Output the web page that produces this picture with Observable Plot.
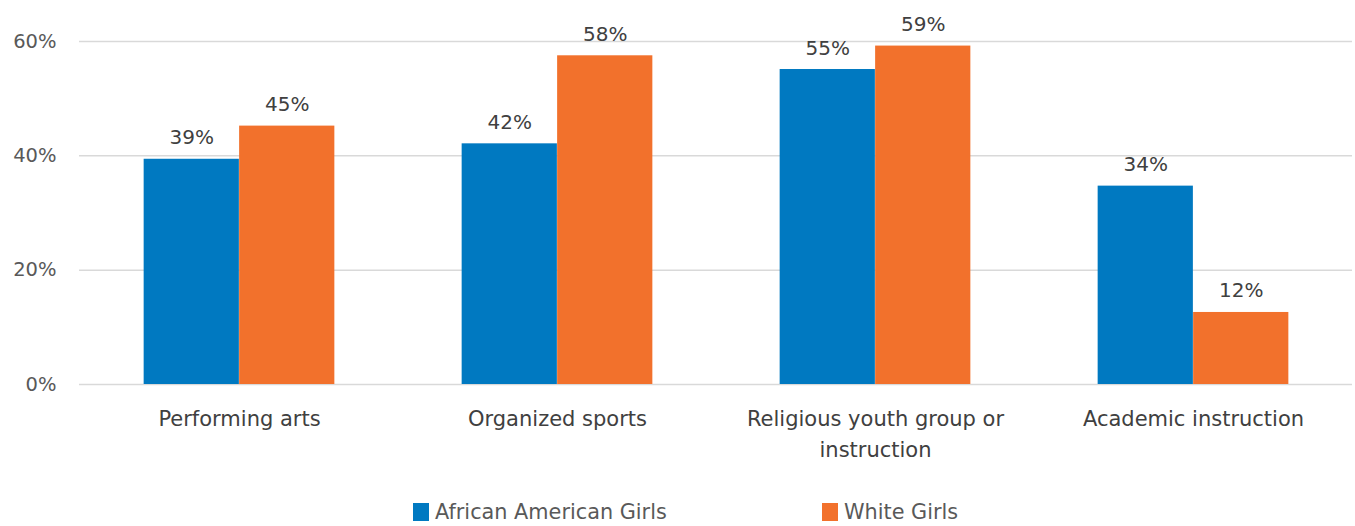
<!DOCTYPE html>
<html>
<head>
<meta charset="utf-8">
<script src="https://cdn.jsdelivr.net/npm/d3@7"></script>
<script src="https://cdn.jsdelivr.net/npm/@observablehq/plot@0.6"></script>
<style>
  html, body { margin: 0; padding: 0; background: #fff; }
  #chart { width: 1355px; }
  .legend { position: relative; height: 46px; font-family: "DejaVu Sans", sans-serif; font-size: 20.8px; color: #595959; }
  .legend .item { position: absolute; top: 20px; display: flex; align-items: center; height: 24px; }
  .legend .sw { width: 16px; height: 18px; margin-right: 6px; }
</style>
</head>
<body>
<div id="chart"></div>
<script>
const categories = ["Performing arts", "Organized sports", "Religious youth group or instruction", "Academic instruction"];
const categoryLabels = ["Performing arts", "Organized sports", "Religious youth group or\ninstruction", "Academic instruction"];
const groups = ["African American Girls", "White Girls"];
const africanAmerican = [39.4, 42.1, 55.1, 34.7];
const white = [45.2, 57.5, 59.2, 12.6];
const africanAmericanLabels = ["39%", "42%", "55%", "34%"];
const whiteLabels = ["45%", "58%", "59%", "12%"];
const yTicks = [0, 20, 40, 60];
const colors = ["#0079C1", "#F2712C"];

const seriesA = categories.map((c, i) => ({category: c, group: groups[0], value: africanAmerican[i], label: africanAmericanLabels[i]}));
const seriesB = categories.map((c, i) => ({category: c, group: groups[1], value: white[i], label: whiteLabels[i]}));
const labelOf = new Map(categories.map((c, i) => [c, categoryLabels[i]]));

const W = 1355, ML = 79, MR = 3;
const step = (W - ML - MR) / categories.length;
const outer = 0.2 * step, bar = 0.3 * step;

const font = '"DejaVu Sans", sans-serif';
const plot = Plot.plot({
  width: W,
  height: 480,
  marginLeft: ML,
  marginRight: MR,
  marginTop: 41,
  marginBottom: 96,
  style: {fontFamily: font, fontSize: "20px", color: "#595959", background: "#fff"},
  x: {domain: categories, padding: 0, axis: null},
  y: {domain: [0, 60], axis: null},
  color: {domain: groups, range: colors},
  marks: [
    Plot.gridY(yTicks, {stroke: "#d9d9d9", strokeWidth: 1.5, strokeOpacity: 1}),
    Plot.axisY(yTicks, {tickSize: 0, tickPadding: 23, tickFormat: d => d + "%", fill: "#595959", fontSize: 19.5, label: null}),
    Plot.barY(seriesA, {x: "category", y: "value", fill: "group", insetLeft: outer, insetRight: step - outer - bar}),
    Plot.barY(seriesB, {x: "category", y: "value", fill: "group", insetLeft: outer + bar, insetRight: outer}),
    Plot.text(seriesA, {x: "category", y: "value", text: "label", dx: -bar / 2, lineAnchor: "bottom", dy: -15, fill: "#404040", fontSize: 20}),
    Plot.text(seriesB, {x: "category", y: "value", text: "label", dx: bar / 2, lineAnchor: "bottom", dy: -15, fill: "#404040", fontSize: 20}),
    Plot.text(categories, {x: d => d, text: d => labelOf.get(d), frameAnchor: "bottom", lineAnchor: "top", dy: 19, lineHeight: 1.5, fill: "#404040", fontSize: 21})
  ]
});
document.getElementById("chart").appendChild(plot);

const legend = document.createElement("div");
legend.className = "legend";
const positions = [413, 822];
groups.forEach((g, i) => {
  const item = document.createElement("div");
  item.className = "item";
  item.style.left = positions[i] + "px";
  const sw = document.createElement("span");
  sw.className = "sw";
  sw.style.background = colors[i];
  const t = document.createElement("span");
  t.textContent = g;
  item.appendChild(sw);
  item.appendChild(t);
  legend.appendChild(item);
});
document.body.appendChild(legend);
</script>
</body>
</html>
